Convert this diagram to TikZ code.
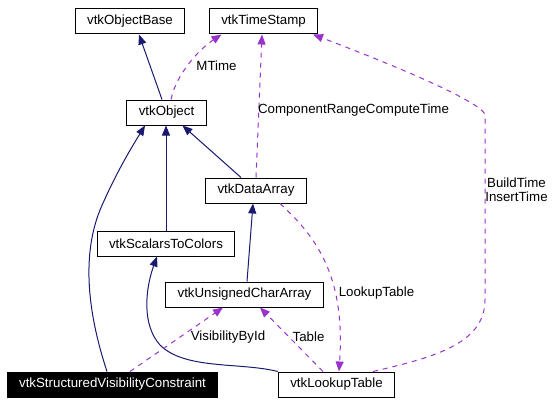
\documentclass[tikz,border=0pt]{standalone}
\usepackage{fontspec}
\setmainfont{Liberation Sans}
\usetikzlibrary{arrows.meta}
\definecolor{midnight}{RGB}{25,25,112}
\definecolor{orchid}{RGB}{154,50,205}

\begin{document}
\begin{tikzpicture}[x=1pt, y=-1pt,
  cls/.style={draw, line width=1pt, minimum height=25pt, inner xsep=12pt, inner ysep=0pt, font=\fontsize{13.3}{16}\selectfont},
  inh/.style={line width=1pt, midnight, -{Triangle[length=10pt,width=8pt]}},
  use/.style={line width=1pt, orchid, dash pattern=on 5pt off 5pt, -{Triangle[length=10pt,width=8pt]}},
  lbl/.style={font=\fontsize{13.3}{14}\selectfont, align=center}]
  \useasboundingbox (0,0) rectangle (556,404);
  \node[cls] (base) at (130,21.5) {vtkObjectBase};
  \node[cls] (stamp) at (263.5,21.5) {vtkTimeStamp};
  \node[cls] (obj) at (166.5,112.5) {vtkObject};
  \node[cls] (darr) at (256,190.5) {vtkDataArray};
  \node[cls] (s2c) at (166,243.5) {vtkScalarsToColors};
  \node[cls] (ucarr) at (244.5,294.5) {vtkUnsignedCharArray};
  \node[cls, fill=black, text=white] (svc) at (112.5,384.5) {vtkStructuredVisibilityConstraint};
  \node[cls] (lut) at (336.5,384.5) {vtkLookupTable};

  \draw[inh] ([xshift=-4.5pt]obj.north) -- ([xshift=9pt]base.south);
  \draw[use] ([xshift=4.5pt]obj.north) .. controls (176,75) and (198,50) .. ([xshift=-42pt]stamp.south);
  \draw[inh] ([xshift=-15pt]darr.north) -- ([xshift=16pt]obj.south);
  \draw[inh] (s2c.north) -- (s2c.north |- obj.south);
  \draw[inh] ([xshift=-5.5pt]svc.north) .. controls (90,320) and (80,260) .. (100,210) .. controls (115,175) and (130,150) .. ([xshift=-21.5pt]obj.south);
  \draw[use] (darr.north) -- ([xshift=-1.5pt]stamp.south);
  \draw[inh] ([xshift=2.5pt]ucarr.north) -- ([xshift=-3pt]darr.south);
  \draw[inh] (lut.north west) .. controls (240,362) and (185,370) .. (160,345) .. controls (142,325) and (145,290) .. ([xshift=-9pt]s2c.south);
  \draw[use] ([xshift=17.5pt]svc.north) -- ([xshift=-21.5pt]ucarr.south);
  \draw[use] ([xshift=-13.5pt]lut.north) -- ([xshift=15.5pt]ucarr.south);
  \draw[use] ([xshift=24pt]darr.south) .. controls (320,240) and (345,280) .. ([xshift=2.5pt]lut.north);
  \draw[use] ([xshift=36.5pt]lut.north) .. controls (430,358) and (485,345) .. (485,300) -- (485,115) .. controls (484,105) and (420,75) .. ([xshift=49.5pt]stamp.south);

  \node[lbl] (mtime) at (216.5,66) {MTime};
  \node[lbl] (crct) at (353.5,110) {ComponentRangeComputeTime};
  \node[lbl] (visid) at (228,337) {VisibilityById};
  \node[lbl] (table) at (308.5,337) {Table};
  \node[lbl] (lookup) at (376.5,293) {LookupTable};
  \node[lbl] (times) at (516.5,190) {BuildTime\\InsertTime};
\end{tikzpicture}
\end{document}
